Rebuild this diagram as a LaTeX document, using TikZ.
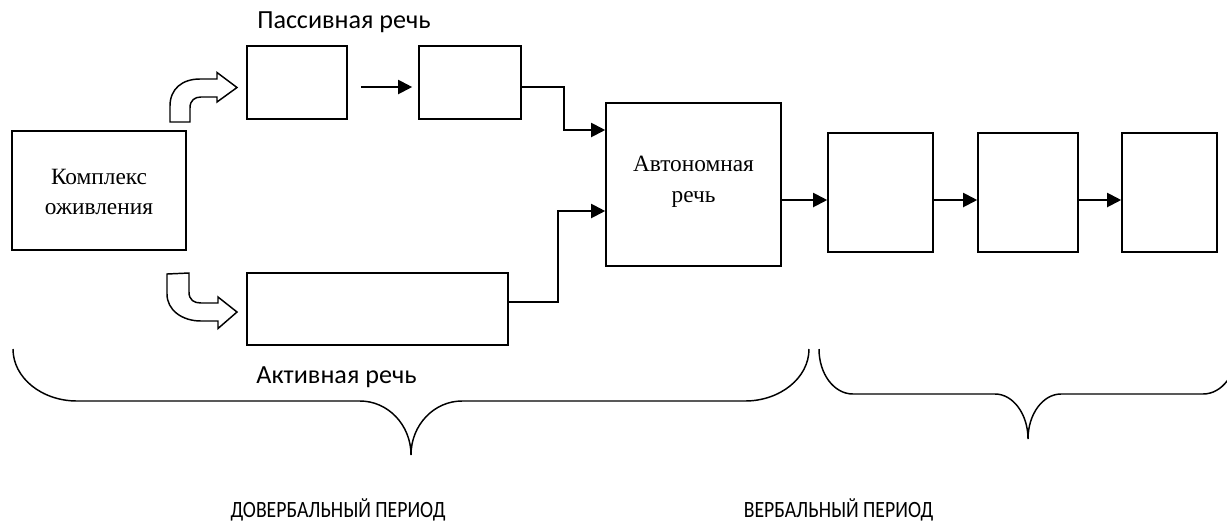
\documentclass[tikz,border=0pt]{standalone}
\usepackage{fontspec}
\setmainfont{Liberation Serif}
\newfontfamily\lblfont{Carlito}
\usetikzlibrary{arrows.meta}
\newcommand{\narrowcaps}[1]{\scalebox{0.846}[1]{#1}}
\tikzset{
  box/.style={draw, line width=1.2pt, inner sep=0pt, fill=white},
  conn/.style={line width=1.5pt, -{Triangle[length=10.5pt,width=10.5pt]}},
  bent/.style={draw, line width=1.1pt, fill=white, line join=miter},
  brace/.style={line width=1.1pt},
  lbl/.style={font=\lblfont\fontsize{19.6}{23}\selectfont, inner sep=0pt},
  caplbl/.style={font=\lblfont\fontsize{17.5}{21}\selectfont, inner sep=0pt},
  sertext/.style={font=\fontsize{17.5}{23}\selectfont, align=center, inner sep=0pt}
}
\begin{document}
\begin{tikzpicture}[x=0.75pt,y=-0.75pt]
\useasboundingbox (0,0) rectangle (1227,522);
\clip (0,0) rectangle (1227,522);
% boxes
\node[box, minimum width=130.5pt, minimum height=89.25pt] (K) at (99,190.5) {};
\node[sertext] (Kt) at (99,192) {Комплекс\\оживления};
\node[box, minimum width=75pt, minimum height=54.75pt] (P1) at (297,82.5) {};
\node[box, minimum width=76.5pt, minimum height=54.75pt] (P2) at (470,82.5) {};
\node[box, minimum width=195.75pt, minimum height=54pt] (A) at (377.5,309) {};
\node[box, minimum width=131.25pt, minimum height=122.25pt] (Au) at (693.5,184.5) {};
\node[sertext] (Aut) at (693.5,182) {Автономная\\речь};
\node[box, minimum width=78.75pt, minimum height=89.25pt] (R1) at (880.5,192.5) {};
\node[box, minimum width=75pt, minimum height=89.25pt] (R2) at (1028,192.5) {};
\node[box, minimum width=71.25pt, minimum height=89.25pt] (R3) at (1169.5,192.5) {};
% labels
\node[lbl] (lp) at (344,22) {Пассивная речь};
\node[lbl] (la) at (336.5,377) {Активная речь};
\node[caplbl] (ld) at (338,510) {\narrowcaps{ДОВЕРБАЛЬНЫЙ ПЕРИОД}};
\node[caplbl] (lv) at (838.5,510) {\narrowcaps{ВЕРБАЛЬНЫЙ ПЕРИОД}};
% connectors
\draw[conn] ([shift={(13,4.5)}]P1.east) -- ([shift={(-6,4.5)}]P2.west);
\draw[conn] ([shift={(0,4.5)}]P2.east) -- ++(42,0) |- ([shift={(0,-54.5)}]Au.west);
\draw[conn] ([shift={(0,-7)}]A.east) -- ++(49,0) |- ([shift={(0,26.5)}]Au.west);
\draw[conn] ([shift={(0,15.5)}]Au.east) coordinate (t1) -- (t1 -| R1.west);
\draw[conn] ([shift={(0,7.5)}]R1.east) coordinate (t2) -- (t2 -| R2.west);
\draw[conn] ([shift={(0,7.5)}]R2.east) coordinate (t3) -- (t3 -| R3.west);
% bent arrows
\path[bent] (170,122) -- (170,106) .. controls (170,89) and (182,79) .. (200,79)
  -- (217,79) -- (217,72.5) -- (237,87.5) -- (217,102) -- (217,97) -- (201,97)
  .. controls (195,97) and (190,100) .. (190,108) -- (190,122) -- cycle;
\path[bent] (167,274) -- (167,294) .. controls (167,310) and (182,321) .. (201,321)
  -- (218,321) -- (218,328.5) -- (237,312) -- (218,297) -- (218,303) -- (201,303)
  .. controls (194,303) and (189,300) .. (189,292) -- (189,273) -- cycle;
% braces
\draw[brace] (13,349) .. controls (13,378) and (42,401) .. (77,401) -- (360,401)
  .. controls (388,401) and (411,425) .. (411,455)
  .. controls (411,425) and (434,401) .. (462,401) -- (745,401)
  .. controls (780,401) and (809,378) .. (809,349);
\draw[brace] (819,349) .. controls (819,374) and (834,394) .. (853,394) -- (995,394)
  .. controls (1013,394) and (1028,414) .. (1028,439)
  .. controls (1028,414) and (1043,394) .. (1061,394) -- (1203,394)
  .. controls (1222,394) and (1237,374) .. (1237,349);
\end{tikzpicture}
\end{document}
